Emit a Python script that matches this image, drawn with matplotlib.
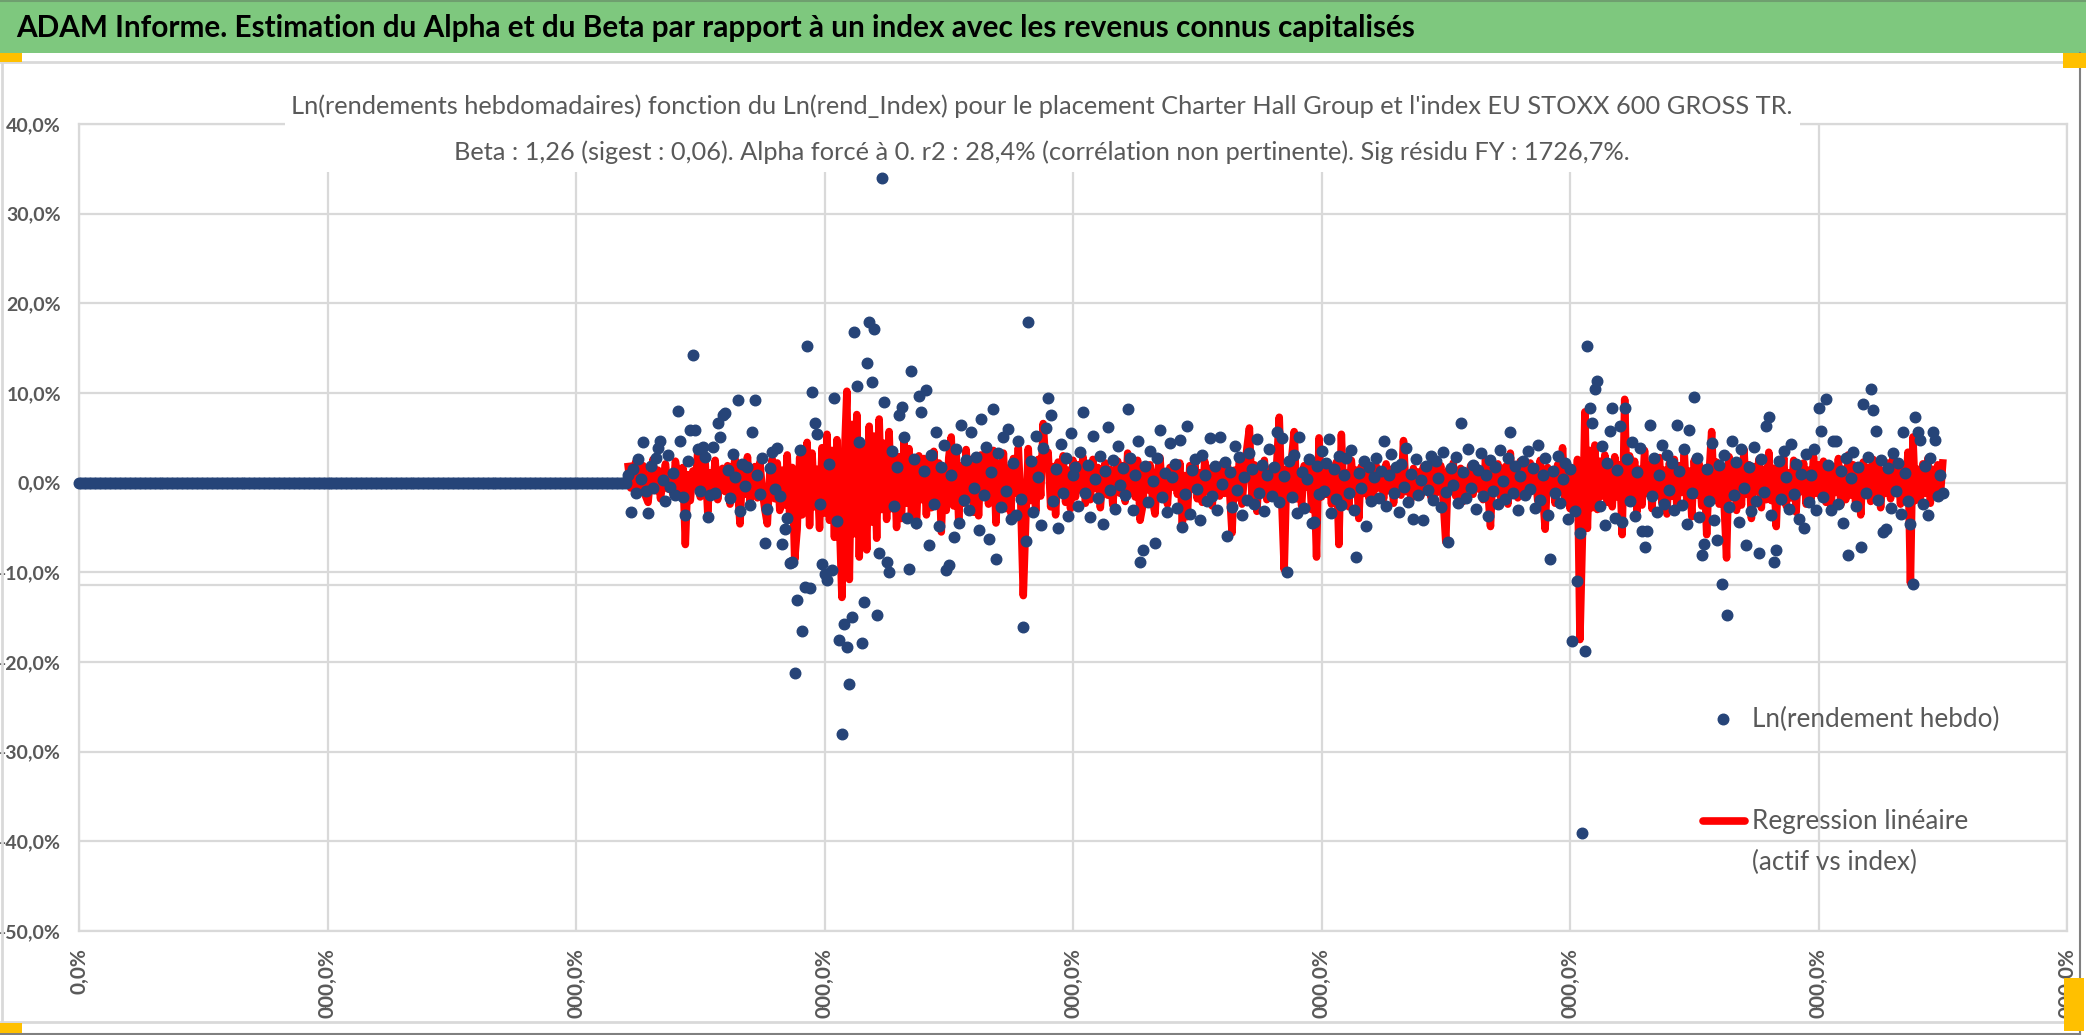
import numpy as np
import matplotlib.pyplot as plt
from matplotlib.lines import Line2D
from matplotlib.patches import Rectangle
from matplotlib.ticker import FuncFormatter

plt.rcParams["font.family"] = ["Lato", "DejaVu Sans"]

W, H = 2086, 1035

title = ("ADAM Informe. Estimation du Alpha et du Beta par rapport à un index "
         "avec les revenus connus capitalisés")
subtitle_1 = ("Ln(rendements hebdomadaires) fonction du Ln(rend_Index) pour le placement "
              "Charter Hall Group et l'index EU STOXX 600 GROSS TR.")
subtitle_2 = ("Beta : 1,26 (sigest : 0,06). Alpha forcé à 0. r2 : 28,4% "
              "(corrélation non pertinente). Sig résidu FY : 1726,7%.")
legend_dots = "Ln(rendement hebdo)"
legend_line = ["Regression linéaire", "(actif vs index)"]

# weeks before the listing: the series sits at 0
listing_week = 442
week_step = 2

# weekly log returns of the asset (%), one value every second week from listing_week
asset_pct = [
    0.8, -3.3, 1.5, -1.2, 2.6, 0.4, 4.5, -0.9, -3.4, 1.9, -0.6, 2.8, 3.9, 4.6, 0.3, -2.1, 3.1, -0.5, 1.1, -1.4,
    8.0, 4.6, -1.6, -3.6, 2.4, 5.9, 14.2, 5.9, 3.8, -0.9, 4.0, 2.9, -3.8, -1.4, 4.0, -1.1, 6.7, 5.1, 7.6, 7.8,
    1.4, -1.7, 3.2, 0.6, 9.2, -3.2, 2.1, -0.4, 1.7, -2.5, 5.7, 9.2, 0.9, -1.3, 2.8, -6.7, -2.9, 1.6, 3.4, -0.7,
    3.9, -1.5, -6.8, -5.2, -3.9, -9.0, -8.9, -21.2, -13.1, 3.6, -16.5, -11.6, 15.2, -11.7, 10.1, 6.6, 5.4, -2.4, -9.1, -10.2,
    -10.8, 2.1, -9.7, 9.4, -4.3, -17.5, -28.0, -15.8, -18.3, -22.4, -15.0, 16.8, 10.8, 4.5, -17.9, -13.3, 13.3, 17.9, 11.2, 17.1,
    -14.8, -7.8, 34.0, 9.0, -8.8, -10.0, 3.5, -2.6, 1.8, 7.5, 8.4, 5.1, -3.9, -9.6, 12.4, 2.6, -4.5, 9.7, 7.9, 1.3,
    10.3, -6.9, 3.1, -2.4, 5.6, -4.8, 1.7, 4.2, -9.7, -9.2, 0.8, -6.1, 3.7, -4.5, 6.4, -1.9, 2.5, -3.1, 5.6, -0.6,
    2.9, -5.3, 7.1, -1.4, 4.0, -6.3, 1.2, 8.2, -8.5, 3.3, -2.7, 5.1, -0.9, 6.0, -4.1, 2.2, -3.6, 4.7, -1.8, -16.1,
    -6.5, 17.9, 2.4, -3.3, 5.2, 0.6, -4.7, 3.9, 6.1, 9.4, 7.6, -2.1, 1.5, -5.0, 4.3, -1.2, 2.8, -3.7, 5.5, 0.9,
    1.8, -2.6, 3.4, 7.9, -1.1, 2.0, -3.8, 5.2, 0.4, -1.7, 3.0, -4.6, 1.3, 6.2, -0.8, 2.5, -2.9, 4.1, -0.3, 1.6,
    -1.4, 8.2, 2.7, -3.1, 0.9, 4.6, -8.9, -7.5, 1.9, -2.2, 3.5, 0.2, -6.7, 2.8, 5.9, -1.6, 1.1, -3.3, 4.4, 0.6,
    2.1, -2.8, 4.8, -4.9, -1.3, 6.3, -3.5, 1.4, 2.6, -0.7, -4.2, 3.1, 0.8, -2.0, 5.0, -1.5, 1.9, -3.0, 5.1, -0.2,
    2.3, -5.9, 1.2, -2.7, 4.1, -0.8, 2.9, -3.6, 0.6, -1.9, 3.3, 1.5, -2.4, 4.9, -1.1, 2.0, -3.2, 0.9, 3.7, -1.5,
    1.8, 5.7, -2.2, 5.0, 0.7, -10.0, 2.4, -1.6, 3.1, -3.4, 5.1, 1.2, -2.8, 0.4, 2.6, -4.5, -4.4, 1.9, -1.3, 3.5,
    -0.9, 2.2, 4.9, -3.4, 1.5, -1.8, 3.0, -2.5, 0.8, 2.7, -1.2, 3.6, -3.0, -8.3, 1.1, -0.6, 2.4, -4.8, 1.7, -2.1,
    0.6, 2.8, -1.7, 1.3, 4.6, -2.6, 0.9, 3.2, -1.1, 1.8, -3.3, 2.1, -0.5, 3.9, -2.2, 1.0, -4.0, 2.6, -1.4, 0.3,
    -4.2, 1.9, -0.8, 3.0, -1.9, 2.4, 0.5, -2.7, 3.4, -1.0, -6.6, 1.6, -0.3, 2.9, -2.3, 6.6, 1.2, -1.7, 3.8, -0.6,
    2.0, -2.9, 1.4, 3.3, -1.5, 0.8, -3.7, 2.5, -0.9, 1.7, -2.4, 3.6, 0.2, -1.8, 2.8, 5.6, -1.2, 1.9, -3.1, 0.7,
    2.4, -1.4, 3.5, -0.7, 1.6, -2.8, 4.2, -1.9, 0.9, 2.7, -3.6, -8.5, 1.3, -1.1, 3.0, -2.3, 0.4, 2.2, -4.1, 1.5,
    -17.7, -3.2, -11.0, -5.6, -39.1, -18.8, 15.2, 8.3, 6.7, 10.4, 11.3, -2.6, 4.1, -4.7, 2.2, 5.8, 8.3, -3.9, 1.4, 6.3,
    -4.4, 8.3, 2.6, -2.1, 4.5, -3.7, 1.2, 3.9, -5.4, -7.2, -5.4, 6.4, -1.5, 2.8, -3.3, 0.9, 4.2, -2.4, 3.1, -0.8,
    2.2, -3.0, 6.4, 1.3, -2.5, 3.8, -4.6, 5.9, -1.2, 9.6, 2.7, -3.8, -8.1, -6.8, 1.5, -2.0, 4.4, -4.2, -6.4, 2.0,
    -11.3, 3.1, -14.8, -2.7, 4.6, -1.4, 2.3, -4.4, 3.7, -0.6, -6.9, 1.8, -3.2, 4.0, -2.1, -7.8, 2.6, -1.0, 6.3, 7.3,
    -3.6, -8.9, -7.5, 2.4, -1.8, 3.5, 0.6, -2.9, 4.3, -1.3, 2.1, -4.0, 1.0, -5.1, 3.2, -2.2, 0.8, 3.8, -3.0, 8.3,
    5.8, -1.6, 9.3, 2.0, -3.1, 4.7, 4.7, -2.4, 1.3, -4.5, 2.8, -8.1, 0.5, 3.4, -2.6, 1.7, -7.2, 8.8, -1.1, 2.9,
    10.4, 8.1, 5.8, -1.9, 2.5, -5.5, -5.2, 1.6, -2.8, 3.3, -0.9, 2.2, -3.5, 5.7, 1.1, -2.0, -4.6, -11.3, 7.3, 5.7,
    4.8, -2.4, 1.9, -3.6, 2.7, 5.7, 4.8, -1.5, 0.8, -1.1,
]

# fitted values beta * index return (%), same weeks
regression_pct = [
    1.8, -0.6, 1.2, 2.3, -1.1, 0.4, 1.9, -1.5, -2.2, 0.8, 2.6, -0.9, 1.4, -1.8, 0.3, 2.1, -0.7, 1.0, -1.3, 2.4,
    0.6, -1.2, 1.7, -6.9, 0.9, -2.0, 1.3, -0.4, 3.5, -1.6, 0.7, 2.2, -3.3, 1.1, -0.8, 2.5, -1.9, 0.5, 1.6, -1.0,
    1.9, -2.4, 0.8, 2.7, -0.5, -4.6, 1.5, -1.3, 2.9, -2.1, 0.6, 1.8, -1.7, 2.3, -0.9, -3.0, -4.6, 1.2, 2.6, -1.8,
    2.2, -3.1, 1.4, -2.5, 3.1, -4.0, 1.7, -8.6, -5.2, 2.8, -3.6, 0.9, 4.5, -4.8, 3.3, -2.7, 1.5, -5.1, 3.9, -3.4,
    5.4, -4.2, 3.6, -6.1, 4.8, -3.9, -12.8, 2.7, 10.2, -10.8, 6.5, -5.7, 7.6, -8.3, 4.1, 1.9, -7.5, 6.3, -4.4, 5.2,
    -6.2, 7.1, -3.0, 4.4, -4.1, 5.7, -2.9, 3.2, -5.0, 2.9, -4.0, 4.6, -2.3, 3.8, -3.5, 2.1, -4.8, 3.0, -1.9, 2.7,
    -3.6, 2.4, -2.8, 3.5, -1.7, 2.2, -5.5, 1.6, -3.1, 2.8, 5.1, -2.6, 3.4, -4.2, 1.9, -2.3, 3.7, -1.4, 2.6, -3.3,
    2.0, -3.7, 3.1, -1.5, 4.0, -2.4, 1.3, 3.6, -4.5, 2.2, -1.8, 3.3, -2.9, 1.6, -3.4, 2.7, -1.2, 3.9, -2.5, -12.6,
    -4.1, 3.8, -2.0, 1.7, -3.2, 2.6, -1.5, 6.6, 2.1, 3.4, -2.7, 1.8, -3.6, 2.3, -1.1, 3.0, -2.2, 1.4, -2.9, 2.5,
    -1.6, 2.0, -0.8, 2.9, -2.3, 1.2, -1.9, 2.6, -0.6, 1.7, -2.8, 0.9, 2.2, -1.4, 1.5, -2.5, 0.7, 2.4, -1.2, 1.9,
    -2.1, 3.3, -0.9, 1.8, -1.6, 2.5, -4.2, -2.7, 1.4, -0.8, 2.0, -1.9, -3.5, 1.2, 2.8, -1.1, 0.6, -2.4, 1.7, -0.5,
    1.5, -1.3, 2.2, -4.7, 0.8, -3.8, 1.9, -0.7, 2.6, -1.8, 1.1, -2.2, 2.4, -1.0, 1.6, -2.6, 0.9, 1.8, -1.5, 2.1,
    -1.2, 2.3, -0.9, -5.6, 1.4, -1.7, 2.8, -2.4, 1.0, 3.9, 6.1, -1.5, 2.0, -3.2, 1.3, -0.6, 2.5, -1.9, 0.8, 1.7,
    -1.4, 2.2, 7.3, -2.0, -9.7, 1.5, -1.1, 2.7, 5.7, -1.8, 0.9, -2.6, 1.9, -0.5, 2.4, -3.0, 1.2, -8.3, 5.0, -1.6,
    2.0, -1.3, 1.6, -2.4, 0.7, 2.3, -6.9, 5.4, -1.9, 1.1, -2.7, 2.5, -0.8, 1.4, -4.0, 1.8, -1.2, 2.2, -1.7, 0.9,
    -1.1, 1.9, -0.6, 1.3, -1.8, 2.1, -0.9, 1.5, -2.3, 0.7, 1.7, -1.4, 4.7, -1.0, 0.8, -1.9, 1.6, -0.7, 1.2, -1.5,
    1.8, -0.8, 1.1, -1.6, 2.4, -1.2, 0.6, 1.9, -2.0, -6.6, 1.4, -0.9, 2.2, -1.5, 0.8, 1.6, -2.1, 1.0, -0.6, 1.9,
    -1.3, 2.0, -0.7, 1.4, -1.9, 2.6, -1.0, -4.9, 1.5, -0.8, 2.1, -1.6, 0.9, 1.8, -2.4, 3.3, -1.1, 1.3, -1.7, 2.4,
    -0.9, 1.6, -1.4, 2.2, -0.6, 1.1, -2.0, 2.5, -1.2, -5.2, 1.7, -0.8, 1.3, -2.3, 2.0, -1.0, 3.9, -1.8, 0.7, -2.9,
    1.2, -3.4, 2.6, -17.5, -6.0, 7.9, -5.1, 3.6, -2.8, 4.2, -3.0, 2.4, -1.5, 3.1, -2.2, 1.8, -2.7, 2.9, -1.6, 2.0,
    -5.8, 9.3, -2.1, 3.0, -1.7, 2.4, -3.2, 1.5, -2.5, 3.6, -1.2, 2.0, -2.9, 1.7, -1.0, 2.8, -2.3, 1.4, -3.5, 2.2,
    -1.5, 2.6, -2.7, 1.9, -1.1, 3.2, -2.0, 1.3, -3.8, 2.5, -1.4, 2.1, -2.6, 1.6, -5.8, 1.0, 5.7, -1.9, 2.3, -2.4,
    1.7, -2.2, -8.4, 2.9, -1.6, 2.2, -3.1, 1.4, -2.5, 3.7, -1.3, 2.0, -4.0, 1.8, -1.0, 2.6, -2.8, 1.5, -1.9, 3.4,
    -2.0, 1.6, -4.9, 2.3, -1.4, 2.8, -2.6, 1.1, -1.7, 2.5, -3.3, 1.9, -1.0, 2.2, -2.4, 1.4, -1.8, 2.9, -1.2, 2.0,
    -1.6, 2.4, -2.2, 1.3, -3.0, 1.8, -1.1, 2.7, -2.5, 1.5, -1.9, 3.1, -1.4, 2.0, -2.7, 1.2, -3.6, 2.3, -1.0, 1.7,
    -2.1, 2.6, -1.5, 1.9, -2.8, 1.4, -1.2, 2.2, -1.8, 2.9, -1.0, 1.6, -2.4, 1.8, -1.3, 3.4, -11.2, 5.1, -2.0, 1.5,
    -1.7, 2.1, -1.2, 2.7, -2.3, 1.5, -0.9, 2.0, -1.6, 2.2,
]

# x axis: labels as they show under the chart (the leading digits fall outside it)
x_ticks = [0, 200, 400, 600, 800, 1000, 1200, 1400, 1600]
x_labels = ["0,0%"] + ["000,0%"] * 8
y_ticks = [-50, -40, -30, -20, -10, 0, 10, 20, 30, 40]
ref_level = -11.4  # extra horizontal reference line

assert len(asset_pct) == len(regression_pct)

weeks = listing_week + week_step * np.arange(len(asset_pct))
pre_weeks = np.arange(0, listing_week, week_step)
pre_vals = [0.0] * len(pre_weeks)


def fx(px):
    return px / W


def fy(py):
    return 1 - py / H


grid_c = "#D9D9D9"
text_c = "#595959"
blue = "#264478"

fig = plt.figure(figsize=(W / 100, H / 100), dpi=100)

# header band and chart frame
fig.add_artist(Rectangle((0, fy(53)), 1, 53 / H, transform=fig.transFigure,
                         facecolor="#7EC87E", edgecolor="none"))
fig.add_artist(Line2D([0, 1], [fy(1), fy(1)], transform=fig.transFigure, color="#6F9F6F", lw=1.5))
fig.add_artist(Line2D([fx(1), fx(2080)], [fy(62), fy(62)], transform=fig.transFigure, color=grid_c, lw=2))
fig.add_artist(Line2D([fx(1), fx(2080)], [fy(1022), fy(1022)], transform=fig.transFigure, color=grid_c, lw=2))
fig.add_artist(Line2D([fx(1.5), fx(1.5)], [fy(62), fy(1022)], transform=fig.transFigure, color=grid_c, lw=2))
fig.add_artist(Line2D([fx(2080), fx(2080)], [fy(53), fy(1034)], transform=fig.transFigure, color="#808080", lw=1.5))
fig.add_artist(Line2D([0, fx(2080)], [fy(1033.5), fy(1033.5)], transform=fig.transFigure, color="#808080", lw=1.5))
for (x0, y0, x1, y1) in [(0, 53, 22, 62), (0, 1023, 22, 1033), (2063, 53, 2086, 68), (2064, 978, 2084, 1031)]:
    fig.add_artist(Rectangle((fx(x0), fy(y1)), fx(x1) - fx(x0), fy(y0) - fy(y1),
                             transform=fig.transFigure, facecolor="#FFC000", edgecolor="none", zorder=5))

fig.text(fx(16), fy(28), title, ha="left", va="center", fontsize=21.4,
         fontweight="bold", color="black")

ax = fig.add_axes([fx(79), fy(931), fx(2067) - fx(79), fy(124) - fy(931)])
ax.set_xlim(0, 1600)
ax.set_ylim(-50, 40)
ax.set_xticks(x_ticks)
ax.set_yticks(y_ticks)
ax.grid(True, color=grid_c, lw=1.6)
ax.set_axisbelow(True)
for sp in ax.spines.values():
    sp.set_color(grid_c)
    sp.set_linewidth(1.6)
ax.axhline(ref_level, color=grid_c, lw=1.6, zorder=0.5)

ax.plot(weeks, regression_pct, color="#FF0000", lw=5.4, zorder=2, label=legend_line[0])
ax.plot(np.concatenate([pre_weeks, weeks]), pre_vals + asset_pct, "o", ms=7.6,
        color=blue, mec=blue, zorder=3, label=legend_dots, clip_on=False)

ax.yaxis.set_major_formatter(FuncFormatter(lambda v, p: f"{v:.1f}%".replace(".", ",")))
ax.tick_params(axis="both", length=0, labelsize=14, labelcolor=text_c)
ax.tick_params(axis="y", pad=13)
ax.tick_params(axis="x", pad=12, labelsize=15)
for lab in ax.get_yticklabels():
    lab.set_fontweight("bold")
ax.set_xticklabels(x_labels, rotation=90, fontweight="bold", ha="center", va="top")

# chart subtitle on a white box over the grid
fig.add_artist(Rectangle((fx(285), fy(172)), fx(1800) - fx(285), fy(68) - fy(172),
                         transform=fig.transFigure, facecolor="white", edgecolor="none", zorder=4))
fig.text(fx(1042), fy(106), subtitle_1, ha="center", va="center", fontsize=18.3,
         color=text_c, zorder=6)
fig.text(fx(1042), fy(152), subtitle_2, ha="center", va="center", fontsize=18.3,
         color=text_c, zorder=6)

# legend
fig.add_artist(Line2D([fx(1723)], [fy(719)], transform=fig.transFigure, marker="o",
                      ms=7.6, color=blue, ls="none", zorder=6))
fig.text(fx(1752), fy(719), legend_dots, ha="left", va="center", fontsize=18.8, color=text_c, zorder=6)
fig.add_artist(Line2D([fx(1703), fx(1745)], [fy(821), fy(821)], transform=fig.transFigure,
                      color="#FF0000", lw=5.5, solid_capstyle="round", zorder=6))
fig.text(fx(1752), fy(821), legend_line[0], ha="left", va="center", fontsize=18.8, color=text_c, zorder=6)
fig.text(fx(1752), fy(862), legend_line[1], ha="left", va="center", fontsize=18.8, color=text_c, zorder=6)

fig.savefig("out.png", dpi=100)
